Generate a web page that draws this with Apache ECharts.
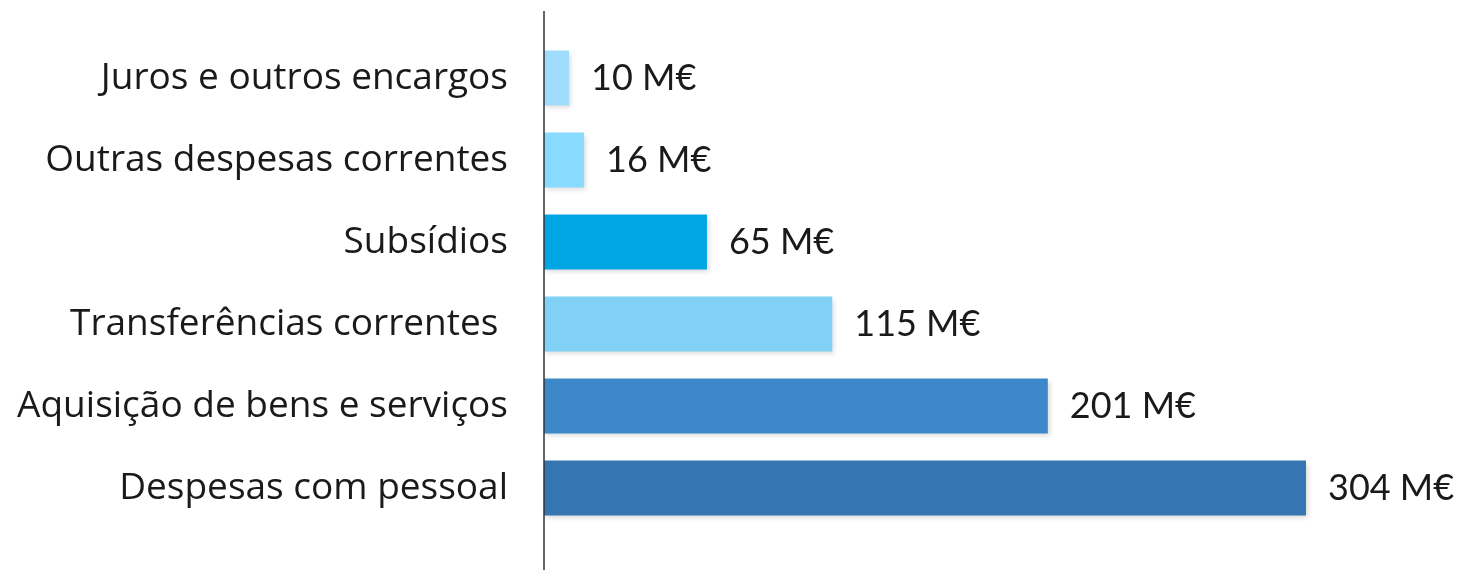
<!DOCTYPE html>
<html>
<head>
<meta charset="utf-8">
<script src="https://cdn.jsdelivr.net/npm/echarts@6/dist/echarts.min.js"></script>
<style>
html,body{margin:0;padding:0;background:#fff;}
#chart{width:1457px;height:570px;}
</style>
</head>
<body>
<div id="chart"></div>
<script>
const categories = [
  "Juros e outros encargos",
  "Outras despesas correntes",
  "Subsídios",
  "Transferências correntes ",
  "Aquisição de bens e serviços",
  "Despesas com pessoal"
];
const values = [10, 16, 65, 115, 201, 304];
const barColors = ["#a0dcfe", "#88dbff", "#00a5e3", "#80d1f5", "#3d88c8", "#3575b1"];
const unit = " M€";

const chart = echarts.init(document.getElementById('chart'), null, {renderer: 'canvas'});
chart.setOption({
  animation: false,
  backgroundColor: '#ffffff',
  grid: {left: 544, right: 151, top: 37, bottom: 41, containLabel: false},
  xAxis: {
    type: 'value', min: 0, max: 304, show: false
  },
  yAxis: {
    type: 'category', data: categories, inverse: true,
    axisLine: {show: false}, axisTick: {show: false},
    axisLabel: {color: '#1a1a1a', fontSize: 37, fontFamily: 'Open Sans', margin: 36}
  },
  graphic: [{
    type: 'line', z: 10,
    shape: {x1: 544, y1: 11, x2: 544, y2: 570},
    style: {stroke: '#333333', lineWidth: 1.5}
  }],
  series: [{
    type: 'bar', data: values.map((v, i) => ({value: v, itemStyle: {color: barColors[i]}})),
    barCategoryGap: '33%',
    itemStyle: {shadowBlur: 5, shadowColor: 'rgba(0,0,0,0.15)', shadowOffsetX: 2, shadowOffsetY: 3},
    label: {
      show: true, position: 'right', distance: 22,
      color: '#1a1a1a', fontSize: 36, fontFamily: 'Lato',
      formatter: p => p.value + unit
    }
  }]
});
</script>
</body>
</html>
